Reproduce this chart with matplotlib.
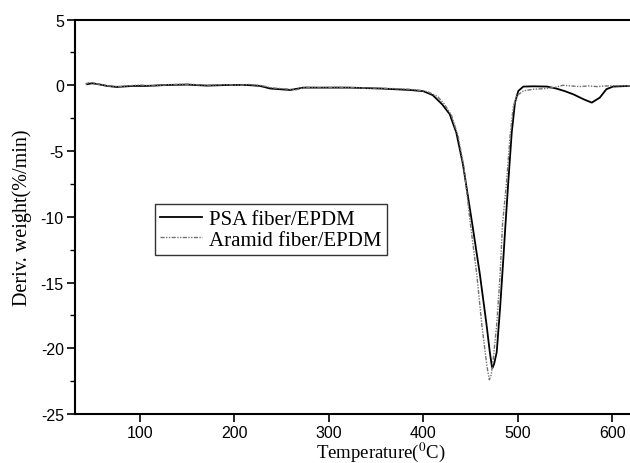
import matplotlib
matplotlib.use("Agg")
import matplotlib.pyplot as plt
from matplotlib.ticker import MultipleLocator

plt.rcParams["axes.unicode_minus"] = False
plt.rcParams["mathtext.fontset"] = "stix"

# ------------------------------------------------------------
# DTG curves
# ------------------------------------------------------------
psa_temp = [44, 49, 54, 65, 75, 93, 107, 128, 150, 171, 192, 213, 227, 238,
            259, 273, 287, 322, 355, 386, 400, 410, 420, 428, 435, 442, 447,
            452, 460, 467, 470.5, 472.5, 473.2, 475, 477.8, 481.4, 484.9,
            486.7, 490.2, 493.7, 497.2, 500.7, 506, 517, 531, 541, 550, 559,
            570, 578.5, 587, 594, 601, 619]
psa_deriv = [0.08, 0.15, 0.1, -0.05, -0.13, -0.05, -0.05, 0.02, 0.05, -0.03,
             0.02, 0.02, -0.05, -0.25, -0.36, -0.18, -0.18, -0.18, -0.25,
             -0.36, -0.45, -0.75, -1.45, -2.2, -3.6, -6.0, -8.3, -10.6,
             -14.4, -18.2, -20.3, -21.3, -21.5, -21.2, -20.3, -16.9, -13.1,
             -11.0, -7.2, -3.6, -1.3, -0.43, -0.1, -0.08, -0.1, -0.25, -0.45,
             -0.69, -1.07, -1.32, -0.94, -0.3, -0.1, -0.05]

aramid_temp = [42, 46, 50, 55, 62, 70, 80, 92, 100, 115, 130, 150, 170, 190,
               205, 215, 228, 240, 258, 265, 275, 290, 310, 330, 355, 385,
               398, 405, 415, 422, 430, 437, 443, 450, 456.7, 462, 467.3, 470,
               472, 474.3, 477.8, 481.4, 483.9, 488.4, 492, 495.4, 499, 506,
               517, 530, 540, 548, 556, 566, 575, 584, 595, 605, 619]
aramid_deriv = [0.1, 0.2, 0.18, 0.1, 0.0, -0.08, -0.1, -0.02, 0.02, -0.05,
                0.05, 0.08, 0.0, 0.05, 0.0, 0.06, -0.02, -0.2, -0.3, -0.35,
                -0.15, -0.2, -0.15, -0.2, -0.22, -0.3, -0.4, -0.5, -0.85,
                -1.4, -2.3, -3.9, -6.2, -10.6, -14.4, -18.2, -21.3, -22.4,
                -22.0, -20.7, -18.2, -14.4, -10.6, -7.2, -3.8, -1.6, -0.8,
                -0.43, -0.3, -0.25, -0.15, 0.0, -0.05, -0.1, -0.05, -0.1,
                -0.05, -0.03, -0.05]

x_ticks = [100, 200, 300, 400, 500, 600]
y_ticks = [5, 0, -5, -10, -15, -20, -25]

# ------------------------------------------------------------
# Figure
# ------------------------------------------------------------
fig = plt.figure(figsize=(6.3, 4.64), dpi=100)
ax = fig.add_axes([0.119, 0.1056, 0.881, 0.8502])

ax.plot(psa_temp, psa_deriv, color="black", lw=1.3, label="PSA fiber/EPDM")
ax.plot(aramid_temp, aramid_deriv, color="0.45", lw=1.0,
        linestyle=(0, (3, 1, 1, 1, 1, 1)), label="Aramid fiber/EPDM")

ax.set_xlim(31, 619)
ax.set_ylim(-25, 5)
ax.set_xticks(x_ticks)
ax.set_yticks(y_ticks)
ax.yaxis.set_minor_locator(MultipleLocator(2.5))

for side in ["left", "bottom", "top"]:
    ax.spines[side].set_linewidth(1.5)
ax.spines["right"].set_visible(False)

ax.tick_params(axis="both", which="major", direction="out", length=6,
               width=1.2, labelsize=11.5, top=False, right=False)
ax.tick_params(axis="y", which="major", pad=2)
ax.tick_params(axis="x", which="major", pad=2)
ax.tick_params(axis="y", which="minor", direction="out", length=3.5, width=1.0)
for lbl in ax.get_xticklabels() + ax.get_yticklabels():
    lbl.set_fontfamily("Liberation Sans")

ax.set_xlabel(r"Temperature($^{0}$C)", fontsize=13.5, family="Liberation Serif")
ax.set_ylabel("Deriv. weight(%/min)", fontsize=14.5, family="Liberation Serif")
ax.xaxis.set_label_coords(0.551, -0.066)
ax.yaxis.set_label_coords(-0.077, 0.5)

leg = ax.legend(loc="upper left", bbox_to_anchor=(0.144, 0.532),
                borderaxespad=0, fancybox=False, frameon=True,
                prop={"family": "Liberation Serif", "size": 15},
                handlelength=2.0, handletextpad=0.35, labelspacing=0.05,
                borderpad=0.25)
leg.get_frame().set_edgecolor("black")
leg.get_frame().set_linewidth(1.0)

plt.savefig("out.png", dpi=100)
